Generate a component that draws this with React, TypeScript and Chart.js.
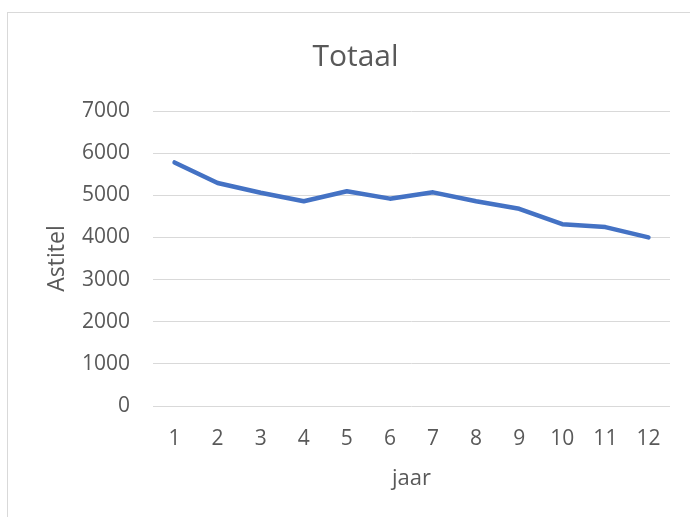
import React, { useEffect, useRef } from "react";
import { Chart, registerables } from "chart.js";

Chart.register(...registerables);

const years = ["1", "2", "3", "4", "5", "6", "7", "8", "9", "10", "11", "12"];
const totals = [5780, 5290, 5060, 4860, 5095, 4920, 5070, 4860, 4680, 4315, 4245, 4000];
const yMin = 0;
const yMax = 7000;
const yStep = 1000;

const FONT = "'Open Sans', 'Noto Sans', sans-serif";
const TEXT = "#595959";

export default function App() {
  const ref = useRef<HTMLCanvasElement | null>(null);

  useEffect(() => {
    if (!ref.current) return;
    const chart = new Chart(ref.current, {
      type: "line",
      data: {
        labels: years,
        datasets: [
          {
            label: "Totaal",
            data: totals,
            borderColor: "#4472C4",
            backgroundColor: "#4472C4",
            borderWidth: 4.5,
            borderCapStyle: "round",
            borderJoinStyle: "round",
            pointRadius: 0,
            tension: 0,
            fill: false,
          },
        ],
      },
      options: {
        responsive: false,
        animation: false,
        devicePixelRatio: 1,
        layout: { padding: { left: 0, right: 0, top: 0, bottom: 20 } },
        plugins: {
          legend: { display: false },
          tooltip: { enabled: false },
          title: {
            display: true,
            text: "Totaal",
            color: TEXT,
            font: { family: FONT, size: 30, weight: "normal" },
            padding: { top: 26, bottom: 36 },
          },
        },
        scales: {
          x: {
            offset: true,
            grid: { display: false, drawTicks: false },
            border: { display: false },
            ticks: {
              color: TEXT,
              font: { family: FONT, size: 21 },
              padding: 20,
              maxRotation: 0,
              autoSkip: false,
            },
            title: {
              display: true,
              text: "jaar",
              color: TEXT,
              font: { family: FONT, size: 22 },
              padding: { top: 0, bottom: 5 },
            },
            afterFit: (scale: any) => {
              scale.height = 91;
              scale.paddingRight = 33;
            },
          },
          y: {
            min: yMin,
            max: yMax,
            grid: { color: "#d9d9d9", lineWidth: 1, drawTicks: false },
            border: { display: false },
            ticks: {
              stepSize: yStep,
              color: TEXT,
              font: { family: FONT, size: 21 },
              padding: 23,
              callback: (v: any) => String(v),
            },
            title: {
              display: true,
              text: "Astitel",
              color: TEXT,
              font: { family: FONT, size: 23 },
              padding: { top: 36, bottom: 0 },
            },
            afterFit: (scale: any) => {
              scale.width = 145;
            },
          },
        },
      },
    });
    return () => chart.destroy();
  }, []);

  return (
    <div
      style={{
        position: "absolute",
        left: 0,
        top: 0,
        width: 690,
        height: 517,
        overflow: "hidden",
        background: "#ffffff",
      }}
    >
      <div
        style={{
          position: "absolute",
          left: 7,
          top: 12,
          width: 695,
          height: 520,
          border: "1px solid #d9d9d9",
        }}
      >
        <canvas ref={ref} width={695} height={504} style={{ display: "block" }} />
      </div>
    </div>
  );
}
